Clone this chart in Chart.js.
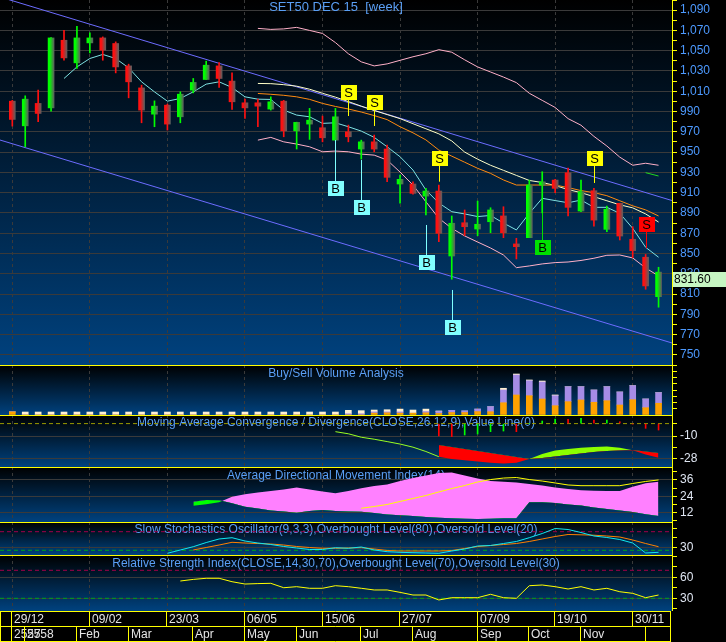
<!DOCTYPE html>
<html><head><meta charset="utf-8">
<script src="https://cdn.jsdelivr.net/npm/chart.js@4.4.1/dist/chart.umd.min.js"></script>
<style>
html,body{margin:0;padding:0;background:#000;width:726px;height:642px;overflow:hidden;}
canvas{position:absolute;left:0;}
</style></head><body>
<canvas id="cMain" width="726" height="365" style="top:0px"></canvas>
<canvas id="cVol" width="726" height="50" style="top:365px"></canvas>
<canvas id="cMacd" width="726" height="52" style="top:415px"></canvas>
<canvas id="cAdx" width="726" height="55" style="top:467px"></canvas>
<canvas id="cSto" width="726" height="33" style="top:522px"></canvas>
<canvas id="cRsi" width="726" height="87" style="top:555px"></canvas>
<script>
// ---------------- DATA ----------------
const dateTickIdx = [0, 6, 12, 18, 24, 30, 36, 42, 48];
const dateTickLabels = ['29/12', '09/02', '23/03', '06/05', '15/06', '27/07', '07/09', '19/10', '30/11'];
const monthIdx = [0, 1, 5, 9, 14, 18, 22, 27, 31, 36, 40, 44, 49];
const monthLabels = ['2557', '2558', 'Feb', 'Mar', 'Apr', 'May', 'Jun', 'Jul', 'Aug', 'Sep', 'Oct', 'Nov', ''];

const open = [1000.2, 975.9, 998.0, 993.6, 1060.3, 1038.0, 1057.7, 1062.6, 1057.1, 1035.0,
  1013.3, 987.4, 996.3, 984.8, 1011.1, 1021.6, 1035.0, 1020.0, 998.6, 998.6,
  992.4, 1000.2, 971.0, 977.6, 974.0, 961.8, 970.0, 953.0, 960.1, 953.0,
  918.5, 918.5, 906.6, 911.6, 847.5, 880.3, 874.1, 881.3, 887.0, 859.4,
  865.6, 917.5, 922.4, 929.6, 891.9, 911.9, 873.8, 899.5, 864.0, 846.3, 807.4];
const high = [1001.0, 1005.5, 1011.1, 1063.0, 1070.2, 1074.1, 1067.5, 1063.6, 1058.7, 1036.7,
  1016.0, 1000.5, 997.3, 1009.4, 1022.6, 1039.7, 1038.4, 1028.1, 1002.2, 1002.2,
  1004.5, 1001.0, 979.5, 993.1, 985.5, 993.1, 976.6, 961.8, 966.8, 956.9,
  927.3, 920.7, 914.2, 917.5, 887.0, 892.9, 901.7, 895.1, 896.1, 865.0,
  922.4, 930.6, 923.1, 934.2, 922.4, 914.2, 896.8, 899.5, 876.4, 849.0, 836.4];
const low = [975.6, 955.2, 979.9, 990.4, 1040.6, 1032.5, 1047.8, 1040.6, 1028.1, 1003.5,
  978.9, 975.0, 971.7, 978.9, 1008.4, 1021.6, 1013.7, 992.1, 983.2, 975.0,
  991.4, 965.1, 953.0, 962.5, 960.1, 961.8, 960.1, 943.1, 950.3, 920.7,
  899.5, 908.6, 888.0, 861.6, 824.6, 867.5, 867.5, 870.5, 865.6, 844.6,
  865.6, 890.0, 909.9, 887.0, 891.2, 877.0, 871.5, 863.3, 845.9, 814.7, 797.0];
const close = [982.2, 1002.2, 988.1, 1062.6, 1042.9, 1062.6, 1062.6, 1050.5, 1034.0, 1019.3,
  991.4, 995.3, 977.6, 1007.1, 1018.7, 1035.7, 1022.6, 999.6, 993.6, 995.3,
  999.6, 971.0, 979.3, 981.5, 964.1, 984.8, 965.1, 960.1, 953.0, 925.1,
  923.1, 909.3, 911.6, 869.9, 879.8, 876.4, 878.8, 892.9, 870.5, 856.7,
  917.5, 920.7, 914.2, 895.5, 910.9, 882.9, 893.6, 867.2, 852.8, 818.0, 831.6];

const maShortStart = 4;
const maShort = [1022.6, 1034.0, 1042.3, 1046.3, 1042.3, 1033.1, 1019.3, 1009.4, 1000.2, 1002.9,
  1009.4, 1017.0, 1019.3, 1013.7, 1004.5, 1002.2, 1001.9, 991.4, 986.5, 984.8,
  978.3, 978.9, 975.0, 970.7, 964.5, 955.2, 945.4, 932.3, 912.6, 899.8,
  891.2, 889.0, 886.4, 887.5, 880.0, 873.2, 889.6, 904.4, 902.2, 900.0,
  902.7, 895.5, 895.5, 889.6, 874.8, 856.1, 846.3];
const bandStart = 19;
const bbUpper = [1072, 1071, 1071.5, 1073, 1070, 1067, 1058, 1047, 1039, 1035, 1037, 1040.5, 1044, 1047, 1051, 1048.5,
  1041, 1034, 1029, 1024, 1018.5, 1008, 1001, 994, 983, 976.5, 965.5, 956, 945, 937, 939, 937];
const bbLower = [961.8, 964.5, 960.1, 957.9, 955.2, 950.3, 951, 950.3, 948, 947, 942.1, 930.3, 917.5, 901, 884.7, 874.8,
  867.3, 861.3, 855.4, 848.5, 836, 837.7, 839.7, 841, 841.6, 843.1, 845.3, 848.2, 848.5, 845.6, 835.7, 827.9];
const maMid = [1017.7, 1017.5, 1016.5, 1015, 1012, 1008, 1004.2, 999.8, 995.3, 991, 987, 983, 978, 973, 968, 961,
  950, 943, 937, 932, 927, 922, 920, 917, 913, 910, 906, 902, 898, 895, 889, 881];
const maLong = [1007.8, 1007, 1006, 1004.5, 1002, 998, 995, 992.5, 989.5, 986, 982, 975, 969, 962, 952, 946,
  940, 934, 929, 922.5, 917.5, 917.5, 917.5, 917.5, 915, 912, 910, 907, 902, 897, 893, 887];
const shortGreenStart = 49;
const shortGreen = [929.7, 926.4];
const channelX = [-0.952, 51.04];
const channelUpper = [1103.0, 902.2];
const channelLower = [961.9, 761.7];

const sigIdx = [25, 26, 27, 28, 32, 33, 34, 41, 45, 49];
const sigKind = ['buy', 'sell', 'buy', 'sell', 'buy', 'sell', 'buy', 'buyStrong', 'sell', 'sellStrong'];
const sigBox = [913.8, 1008.8, 895.3, 998.5, 841.1, 943.7, 776.7, 856.1, 943.7, 878.4];
const sigEnd = [961.9, 985.6, 942.2, 975.7, 878.1, 920.8, 814.0, 890.0, 919.5, 855.1];

const buyVol = [50000, 0, 0, 0, 0, 0, 0, 0, 0, 0,
  0, 0, 0, 0, 0, 0, 0, 0, 0, 0,
  0, 0, 0, 0, 0, 0, 0, 0, 30000, 35000,
  30000, 30000, 35000, 25000, 40000, 40000, 55000, 53000, 198000, 323000,
  311000, 258000, 150000, 215000, 242000, 205000, 231000, 161000, 247000, 118000, 189000];
const sellVol = [0, 0, 0, 0, 0, 0, 0, 0, 0, 0,
  0, 0, 0, 0, 0, 0, 0, 0, 0, 0,
  0, 0, 0, 0, 0, 0, 20000, 20000, 20000, 15000,
  20000, 0, 20000, 30000, 35000, 25000, 40000, 80000, 205000, 322000,
  242000, 274000, 161000, 241000, 214000, 198000, 225000, 210000, 226000, 140000, 171000];
const otherVol = [0, 48000, 48000, 48000, 48000, 48000, 48000, 48000, 48000, 48000,
  48000, 48000, 48000, 48000, 48000, 48000, 48000, 48000, 48000, 48000,
  48000, 48000, 48000, 48000, 48000, 48000, 55000, 50000, 30000, 35000,
  45000, 50000, 40000, 10000, 0, 0, 0, 0, 28000, 16000,
  12000, 16000, 12000, 0, 0, 0, 0, 0, 0, 0, 0];

const macdStart = 25;
const macdLine = [-6.5, -8.2, -11, -12.6, -14.5, -16.5, -19, -22.5, -26.7, -28.5, -29.5, -30.5, -31.5,
  -32.2, -31.5, -28.5, -24.5, -21.7, -20.5, -19.5, -18.8, -18.5, -19.5, -21.5, -25, -27.5];
const signalStart = 33;
const signalLine = [-17.3, -18.9, -20.5, -22.1, -23.7, -25.3, -26.9, -28.5, -27.7, -26.5, -25.3, -24.1,
  -22.9, -22.1, -21.7, -21.3, -22.5, -23.7];
const macdHist = [-10, -10.5, -9.2, -8.4, -6.5, -6, -6.5, 0, 2.1, 3.7, 3.5, 4.3, 2.9, 2.9, 1.5, -0.3, -3.8, -5.2];
const macdZero = [0];

const diStart = 14;
const diPlus = [20.0, 21.3, 21.1, 18.9, 16.4, 15.0, 13.6, 12.8, 12.0, 13.2, 13.9, 13.2, 12.8, 12.7, 11.7, 10.6,
  10.1, 9.5, 8.8, 8.3, 7.9, 7.6, 7.3, 7.6, 7.9, 7.9, 19.6, 19.6, 19.1, 18.0, 17.2, 15.8, 14.7, 13.6, 12.5, 10.8, 9.5];
const diMinus = [17.1, 18.1, 19.6, 23.7, 25.5, 26.8, 27.9, 29.0, 30.5, 29.0, 27.5, 26.2, 27.9, 29.9, 31.6, 32.7,
  35.2, 37.4, 39.3, 41.1, 41.5, 39.3, 37.1, 35.2, 34.7, 34.1, 33.0, 31.9, 30.5, 29.4, 28.4, 28.1, 27.9, 27.9, 31.0, 33.5, 34.7];
const adxStart = 27;
const adxLine = [15.2, 16.5, 18.0, 20.2, 22.4, 24.6, 27.2, 29.7, 31.9, 34.5, 36.3, 37.4, 37.8, 36.3, 35.2, 33.8,
  32.3, 31.8, 31.8, 31.8, 31.8, 33.4, 34.9, 36.0];

const stochKStart = 12;
const stochK = [10.3, 21, 31.6, 45, 56.5, 60.6, 50, 43.5, 38.7, 32.3, 27.4, 22.6, 22.6, 28.4, 26.5, 30.6, 21, 15.5,
  13.5, 12.3, 11.3, 10.3, 17.7, 24.2, 33.9, 35.5, 41.9, 48.4, 60.6, 74.2, 90.3, 87.1, 77.4, 66.1, 61.3, 54.8, 43.5, 11.3, 13.5];
const stochDStart = 14;
const stochD = [21, 29, 37, 45.8, 43.5, 41.9, 40.3, 37, 32.3, 29, 26.5, 26.5, 27.4, 28.4, 24.2, 19.4, 17.7, 17.7,
  17.7, 17.7, 19.4, 25.8, 32.3, 35.5, 38.7, 41.9, 48.4, 56.5, 64.5, 71, 70, 68.7, 66.1, 62.9, 53.2, 41.9, 31.6];
const stochLevels = [80, 20];

const rsiStart = 13;
const rsi = [54.7, 57, 58.6, 58.6, 53.7, 50.4, 51, 51.4, 45.1, 46.6, 44.3, 44.3, 48, 46.6, 44.3, 41.9, 41.9, 38.5,
  34.7, 34.7, 27.6, 30.9, 30.9, 30.9, 35.7, 30.9, 30, 48, 49, 46.6, 43.3, 46.6, 41.9, 44.3, 39.4, 37.1, 30.9, 34.7];
const rsiLevels = [70, 30];

const mainTicks = [750, 770, 790, 810, 830, 850, 870, 890, 910, 930, 950, 970, 990, 1010, 1030, 1050, 1070, 1090];
const volTicks = [200000, 500000];
const macdTicks = [-10, -28];
const adxTicks = [12, 24, 36];
const stochTicks = [30];
const rsiTicks = [30, 60];

const titles = {
  main: 'SET50 DEC 15  [week]',
  vol: 'Buy/Sell Volume Analysis',
  macd: 'Moving Average Convergence / Divergence(CLOSE,26,12,9),Value Line(0)',
  adx: 'Average Directional Movement Index(14)',
  sto: 'Slow Stochastics Oscillator(9,3,3),Overbought Level(80),Oversold Level(20)',
  rsi: 'Relative Strength Index(CLOSE,14,30,70),Overbought Level(70),Oversold Level(30)'
};

// ---------------- STYLE / HELPERS ----------------
const FONT = "'Liberation Sans', Arial, sans-serif";
const GRID = '#3a3a3a';
const X_MIN = -0.952, X_MAX = 51.04;
const UP = '#00ff00', DN = '#ff1010';
const SIG_STYLE = {
  buy: {fill: '#80ffff', line: '#80ffff', letter: 'B'},
  sell: {fill: '#ffff00', line: '#ffff00', letter: 'S'},
  buyStrong: {fill: '#00e000', line: '#00e000', letter: 'B'},
  sellStrong: {fill: '#ff0000', line: '#ff0000', letter: 'S'}
};
const pts = (arr, start = 0) => arr.map((v, i) => ({x: start + i, y: v}));
const levelPts = v => channelX.map(x => ({x, y: v}));

function xAxis(stacked) {
  return {
    type: 'linear', min: X_MIN, max: X_MAX, offset: false, stacked: !!stacked,
    ticks: {display: false},
    grid: {color: GRID, lineWidth: 1, drawTicks: false, offset: false},
    border: {display: false, dash: [3, 3]},
    afterBuildTicks: s => { s.ticks = dateTickIdx.map(v => ({value: v})); },
    afterFit: s => { s.height = 0; s.paddingLeft = 0; s.paddingRight = 0; }
  };
}
function yAxis(min, max, step, labels, color, tickVals, stacked) {
  const isLab = v => labels.includes(v);
  const cfg = {
    position: 'right', min, max, stacked: !!stacked,
    ticks: {stepSize: step, color, autoSkip: false, padding: 3, includeBounds: false,
      font: {size: 12, family: FONT},
      callback: v => isLab(v) ? Number(v).toLocaleString('en-US') : ''},
    grid: {color: c => (c.tick && isLab(c.tick.value)) ? GRID : 'rgba(0,0,0,0)',
      tickColor: '#ffff00', tickLength: 5, lineWidth: 1, drawTicks: true},
    border: {color: '#ffff00', width: 1},
    afterFit: s => { s.width = 54; s.paddingTop = 0; s.paddingBottom = 0; }
  };
  if (tickVals) cfg.afterBuildTicks = s => { s.ticks = tickVals.map(v => ({value: v})); };
  return cfg;
}
const panelPlugin = {
  id: 'panel',
  beforeDraw(chart, args, o) {
    const {ctx, chartArea: a, width, height} = chart;
    ctx.save();
    ctx.fillStyle = '#000';
    ctx.fillRect(0, 0, width, height);
    const g = ctx.createLinearGradient(0, a.top, 0, a.bottom);
    g.addColorStop(0, '#000000');
    g.addColorStop(1, '#00427f');
    ctx.fillStyle = g;
    ctx.fillRect(a.left, a.top, a.right - a.left, a.bottom - a.top);
    ctx.restore();
  },
  beforeDatasetsDraw(chart, args, o) {
    const {ctx, chartArea: a} = chart;
    if (!o.title) return;
    ctx.save();
    ctx.font = (o.size || 12) + 'px ' + FONT;
    ctx.fillStyle = '#5a9ff5';
    ctx.textAlign = 'center';
    ctx.textBaseline = 'middle';
    ctx.fillText(o.title, (a.left + a.right) / 2, a.top + (o.dy || 9));
    ctx.restore();
  },
  afterDraw(chart, args, o) {
    if (!o.sep) return;
    const {ctx, chartArea: a} = chart;
    ctx.save();
    ctx.strokeStyle = '#ffff00';
    ctx.lineWidth = 1;
    ctx.beginPath();
    ctx.moveTo(a.left, a.top + 0.5);
    ctx.lineTo(a.right, a.top + 0.5);
    ctx.stroke();
    ctx.restore();
  }
};
function baseOptions(yCfg, panelOpts, xStacked, extra) {
  return Object.assign({
    responsive: false, animation: false, devicePixelRatio: 1,
    layout: {padding: 0, autoPadding: false},
    plugins: {legend: {display: false}, tooltip: {enabled: false}, panel: panelOpts},
    elements: {point: {radius: 0}, line: {tension: 0, borderWidth: 1}},
    scales: {x: xAxis(xStacked), y: yCfg}
  }, extra || {});
}
const lineDs = (data, color, extra) => Object.assign({type: 'line', data, borderColor: color, borderWidth: 1,
  pointRadius: 0, fill: false, order: 1}, extra || {});

// ---------------- MAIN PRICE PANEL ----------------
const bodyGrad = c => {
  const i = c.dataIndex;
  const base = close[i] >= open[i] ? UP : DN;
  const xs = c.chart.scales && c.chart.scales.x;
  if (!xs) return base;
  const px = xs.getPixelForValue(i);
  if (!isFinite(px)) return base;
  const g = c.chart.ctx.createLinearGradient(px - 3, 0, px + 3, 0);
  g.addColorStop(0, base);
  g.addColorStop(0.25, base);
  g.addColorStop(1, '#5e5e5e');
  return g;
};
const signalPlugin = {
  id: 'signals',
  afterDatasetsDraw(chart) {
    const {ctx, scales: {x, y}} = chart;
    ctx.save();
    sigIdx.forEach((i, k) => {
      const st = SIG_STYLE[sigKind[k]];
      const px = Math.round(x.getPixelForValue(i)) + 0.5;
      const pb = y.getPixelForValue(sigBox[k]);
      const pe = y.getPixelForValue(sigEnd[k]);
      ctx.strokeStyle = st.line;
      ctx.lineWidth = 1;
      ctx.beginPath(); ctx.moveTo(px, pb); ctx.lineTo(px, pe); ctx.stroke();
      ctx.fillStyle = st.fill;
      ctx.fillRect(Math.round(px - 8), Math.round(pb - 7.5), 16, 15);
      ctx.fillStyle = '#000';
      ctx.font = '13px ' + FONT;
      ctx.textAlign = 'center';
      ctx.textBaseline = 'middle';
      ctx.fillText(st.letter, px, pb + 1);
    });
    ctx.restore();
  },
  afterDraw(chart) {
    const {ctx, chartArea: a, scales: {y}} = chart;
    const last = close[close.length - 1];
    const py = Math.round(y.getPixelForValue(last));
    ctx.save();
    ctx.fillStyle = '#c6f5c2';
    ctx.fillRect(a.right + 1, py, chart.width - a.right - 1, 15);
    ctx.fillStyle = '#000';
    ctx.font = '12px ' + FONT;
    ctx.textAlign = 'left';
    ctx.textBaseline = 'middle';
    ctx.fillText(last.toFixed(2), a.right + 2, py + 8);
    ctx.restore();
  }
};
new Chart(document.getElementById('cMain'), {
  type: 'line',
  data: {datasets: [
    {type: 'bar', data: open.map((o, i) => ({x: i, y: [Math.min(o, close[i]), Math.max(o, close[i])]})),
      barThickness: 6, grouped: false, backgroundColor: bodyGrad, borderWidth: 0, order: 0},
    {type: 'bar', data: open.map((o, i) => ({x: i, y: [low[i], high[i]]})),
      barThickness: 1, grouped: false, backgroundColor: open.map((o, i) => close[i] >= o ? UP : DN), borderWidth: 0, order: 0},
    lineDs(pts(maShort, maShortStart), '#7fe3e3'),
    lineDs(pts(shortGreen, shortGreenStart), '#20d820'),
    lineDs(pts(maLong, bandStart), '#ff8a10'),
    lineDs(pts(maMid, bandStart), '#ffffc8'),
    lineDs(pts(bbUpper, bandStart), '#ffb0c8'),
    lineDs(pts(bbLower, bandStart), '#ffb0c8'),
    lineDs(channelX.map((x, k) => ({x, y: channelUpper[k]})), '#6c6cff'),
    lineDs(channelX.map((x, k) => ({x, y: channelLower[k]})), '#6c6cff')
  ]},
  options: baseOptions(yAxis(740, 1100, 10, mainTicks, '#4d9aff'), {title: titles.main, size: 13, dy: 7}),
  plugins: [panelPlugin, signalPlugin]
});

// ---------------- VOLUME ----------------
const SUB_LABEL = '#dfe6f2';
new Chart(document.getElementById('cVol'), {
  type: 'line',
  data: {datasets: [
    {type: 'bar', data: pts(buyVol), backgroundColor: '#ffa200', barThickness: 6, borderWidth: 0},
    {type: 'bar', data: pts(sellVol), backgroundColor: '#a68ce6', barThickness: 6, borderWidth: 0},
    {type: 'bar', data: pts(otherVol), backgroundColor: '#fff0d2', barThickness: 6, borderWidth: 0}
  ]},
  options: baseOptions(yAxis(0, 806452, 100000, volTicks, SUB_LABEL, null, true), {title: titles.vol, sep: true, dy: 9}, true),
  plugins: [panelPlugin]
});

// ---------------- MACD ----------------
const histColors = macdHist.map((v, i) => (i === 0 || v >= macdHist[i - 1]) ? '#00ff00' : '#ff0000');
histColors[0] = '#ff0000';
new Chart(document.getElementById('cMacd'), {
  type: 'line',
  data: {datasets: [
    {type: 'bar', data: pts(macdHist, signalStart), backgroundColor: histColors, barThickness: 1, borderWidth: 0, order: 0},
    lineDs(levelPts(macdZero[0]), '#9a9a00', {borderDash: [4, 3]}),
    lineDs(pts(macdLine.slice(0, signalStart - macdStart + 1), macdStart), '#99ff22'),
    lineDs(pts(macdLine.slice(signalStart - macdStart), signalStart), 'rgba(0,0,0,0)',
      {borderWidth: 0, fill: {target: 4, above: '#8cff00', below: '#ff0000'}}),
    lineDs(pts(signalLine, signalStart), 'rgba(0,0,0,0)', {borderWidth: 0})
  ]},
  options: baseOptions(yAxis(-35.0, 6.94, 1, macdTicks, SUB_LABEL, [-28, -19, -10, 0]), {title: titles.macd, sep: true, dy: 8}),
  plugins: [panelPlugin]
});

// ---------------- ADX ----------------
new Chart(document.getElementById('cAdx'), {
  type: 'line',
  data: {datasets: [
    lineDs(pts(adxLine, adxStart), '#ffff00', {order: 0}),
    lineDs(pts(diMinus, diStart), 'rgba(0,0,0,0)', {borderWidth: 0, fill: {target: 2, above: '#ff80ff', below: '#00ff00'}}),
    lineDs(pts(diPlus, diStart), 'rgba(0,0,0,0)', {borderWidth: 0})
  ]},
  options: baseOptions(yAxis(5.14, 45.51, 6, adxTicks, SUB_LABEL), {title: titles.adx, sep: true, dy: 9}),
  plugins: [panelPlugin]
});

// ---------------- STOCHASTIC ----------------
new Chart(document.getElementById('cSto'), {
  type: 'line',
  data: {datasets: [
    lineDs(pts(stochK, stochKStart), '#10e8f0', {order: 0}),
    lineDs(pts(stochD, stochDStart), '#ff8000', {order: 0}),
    lineDs(levelPts(stochLevels[0]), '#a0004a', {borderDash: [4, 3]}),
    lineDs(levelPts(stochLevels[1]), '#00a020', {borderDash: [4, 3]})
  ]},
  options: baseOptions(yAxis(4.84, 111.3, 30, stochTicks, SUB_LABEL), {title: titles.sto, sep: true, dy: 8}),
  plugins: [panelPlugin]
});

// ---------------- RSI + DATE AXIS ----------------
const xRowsPlugin = {
  id: 'xrows',
  afterDraw(chart) {
    const {ctx, chartArea: a, scales: {x}} = chart;
    const top = a.bottom;
    const R = a.right - 1.5;
    ctx.save();
    ctx.fillStyle = '#000';
    ctx.fillRect(0, top, chart.width, chart.height - top);
    ctx.strokeStyle = '#ffff00';
    ctx.lineWidth = 1;
    const hl = y => { ctx.beginPath(); ctx.moveTo(0, y); ctx.lineTo(R, y); ctx.stroke(); };
    const vl = (px, y0, y1) => { ctx.beginPath(); ctx.moveTo(px, y0); ctx.lineTo(px, y1); ctx.stroke(); };
    hl(top + 0.5); hl(top + 15.5); hl(top + 30.5);
    vl(0.5, top, top + 31); vl(R, top, top + 31);
    ctx.font = '12px ' + FONT;
    ctx.fillStyle = '#e4e4e4';
    ctx.textAlign = 'left';
    ctx.textBaseline = 'middle';
    dateTickIdx.forEach((v, k) => {
      const px = Math.round(x.getPixelForValue(v)) - 0.5;
      vl(px, top + 0.5, top + 15.5);
      ctx.fillText(dateTickLabels[k], px + 2.5, top + 8.5);
    });
    monthIdx.forEach((v, k) => {
      const px = Math.round(x.getPixelForValue(v)) - 0.5;
      vl(px, top + 15.5, top + 30.5);
      ctx.fillText(monthLabels[k], px + 2.5, top + 23.5);
    });
    ctx.restore();
  }
};
const rsiOpts = baseOptions(yAxis(11.86, 91.86, 15, rsiTicks, SUB_LABEL), {title: titles.rsi, sep: true, dy: 9});
rsiOpts.layout = {padding: {left: 0, right: 0, top: 0, bottom: 31}, autoPadding: false};
new Chart(document.getElementById('cRsi'), {
  type: 'line',
  data: {datasets: [
    lineDs(pts(rsi, rsiStart), '#ffff00', {order: 0}),
    lineDs(levelPts(rsiLevels[0]), '#a0004a', {borderDash: [4, 3]}),
    lineDs(levelPts(rsiLevels[1]), '#00a020', {borderDash: [4, 3]})
  ]},
  options: rsiOpts,
  plugins: [panelPlugin, xRowsPlugin]
});
</script>
</body></html>
